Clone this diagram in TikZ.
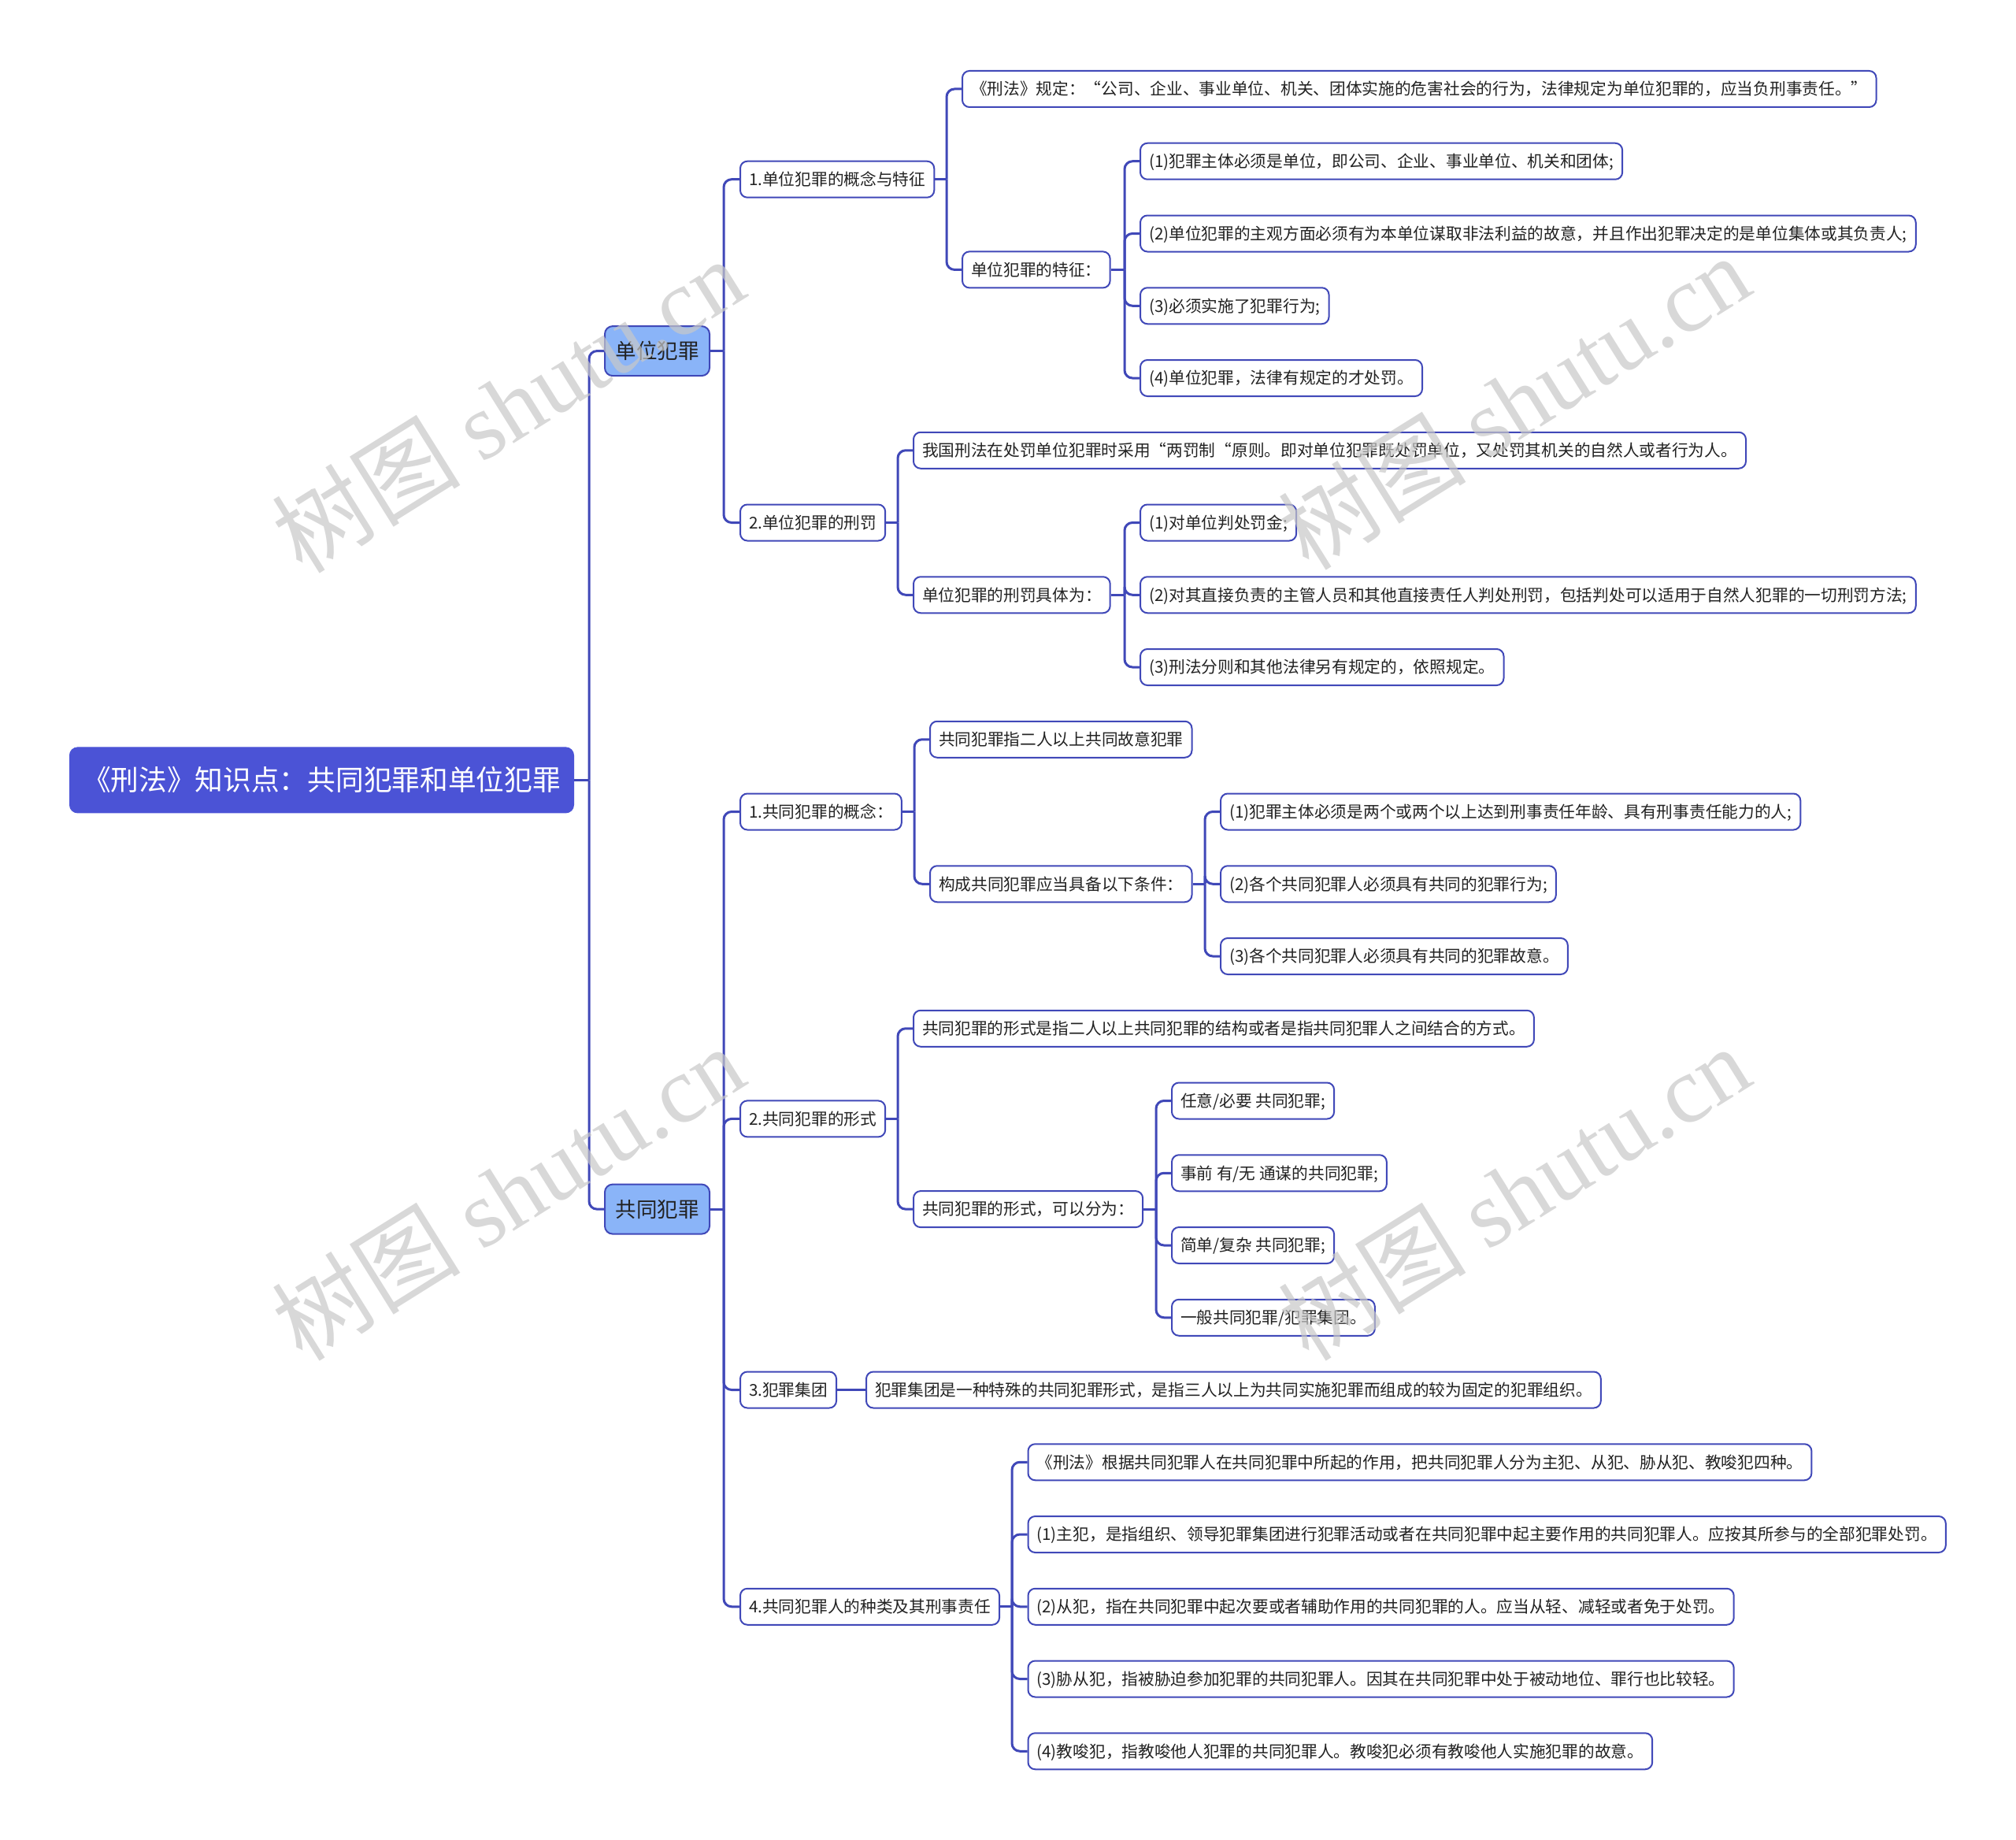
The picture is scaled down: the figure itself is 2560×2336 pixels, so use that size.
\documentclass[tikz,border=0pt]{standalone}
\usepackage{fontspec}
\setmainfont{Noto Sans CJK SC}
\newfontfamily\cjk{Noto Sans CJK SC}
\newfontfamily\wmserif{Liberation Serif}
\definecolor{lc}{HTML}{4048B8}
\definecolor{rootfill}{HTML}{4B53D6}
\definecolor{lonefill}{HTML}{8AB4F8}
\definecolor{tc}{HTML}{222222}
\definecolor{wmc}{HTML}{C8C8C8}
\tikzset{
  conn/.style={draw=lc, line width=3pt},
  bconn/.style={draw=lc, line width=3pt, rounded corners=10pt},
  leaf/.style={draw=lc, line width=2pt, fill=white, rounded corners=9pt, anchor=west,
    minimum height=46pt, inner xsep=11pt, inner ysep=0pt, text=tc,
    text height=18.2pt, text depth=2.5pt,
    font=\cjk\fontsize{20.7}{24}\selectfont},
  lone/.style={draw=lc, line width=2pt, fill=lonefill, rounded corners=10pt, anchor=west,
    minimum height=63pt, minimum width=133pt, inner xsep=0pt, text=tc,
    text height=23.3pt, text depth=3.2pt,
    font=\cjk\fontsize{26.5}{30}\selectfont},
  rootbox/.style={draw=rootfill, line width=1pt, fill=rootfill, rounded corners=10pt, anchor=west,
    minimum height=83pt, minimum width=640pt, inner xsep=0pt, text=white,
    text height=31.4pt, text depth=4.3pt,
    font=\cjk\fontsize{35.7}{40}\selectfont},
  wm/.style={text=wmc, opacity=0.7, rotate=32, font=\fontsize{120}{130}\selectfont}
}
\begin{document}
\begin{tikzpicture}[x=1pt,y=-1pt]
\useasboundingbox (0,0) rectangle (2560,2336);
% bus coordinates
\coordinate (b0) at (748,0);
\coordinate (bL) at (919,0);
\coordinate (bA1) at (1202,0);
\coordinate (bA12) at (1428,0);
\coordinate (bA2) at (1140,0);
\coordinate (bB1) at (1161,0);
\coordinate (bB12) at (1530,0);
\coordinate (bB2) at (1140,0);
\coordinate (bB22) at (1468,0);
\coordinate (bB4) at (1285,0);

% nodes
\node[rootbox] (root) at (88,990.4) {《刑法》知识点：共同犯罪和单位犯罪};
\node[lone] (la) at (767,445.6) {单位犯罪};
\node[lone] (lb) at (767,1535.1) {共同犯罪};

\node[leaf] (a1) at (939,227.7) {1.单位犯罪的概念与特征};
\node[leaf] (a2) at (939,663.5) {2.单位犯罪的刑罚};
\node[leaf] (a11) at (1221,113) {《刑法》规定：“公司、企业、事业单位、机关、团体实施的危害社会的行为，法律规定为单位犯罪的，应当负刑事责任。”};
\node[leaf] (a12) at (1221,342.4) {单位犯罪的特征：};
\node[leaf] (a121) at (1447,204.75) {(1)犯罪主体必须是单位，即公司、企业、事业单位、机关和团体;};
\node[leaf] (a122) at (1447,296.5) {(2)单位犯罪的主观方面必须有为本单位谋取非法利益的故意，并且作出犯罪决定的是单位集体或其负责人;};
\node[leaf] (a123) at (1447,388.25) {(3)必须实施了犯罪行为;};
\node[leaf] (a124) at (1447,480) {(4)单位犯罪，法律有规定的才处罚。};
\node[leaf] (a21) at (1159,571.75) {我国刑法在处罚单位犯罪时采用“两罚制“原则。即对单位犯罪既处罚单位，又处罚其机关的自然人或者行为人。};
\node[leaf] (a22) at (1159,755.25) {单位犯罪的刑罚具体为：};
\node[leaf] (a221) at (1447,663.5) {(1)对单位判处罚金;};
\node[leaf] (a222) at (1447,755.25) {(2)对其直接负责的主管人员和其他直接责任人判处刑罚，包括判处可以适用于自然人犯罪的一切刑罚方法;};
\node[leaf] (a223) at (1447,847) {(3)刑法分则和其他法律另有规定的，依照规定。};

\node[leaf] (b1) at (939,1030.5) {1.共同犯罪的概念：};
\node[leaf] (b2) at (939,1420.4) {2.共同犯罪的形式};
\node[leaf] (b3) at (939,1764.5) {3.犯罪集团};
\node[leaf] (b4) at (939,2039.75) {4.共同犯罪人的种类及其刑事责任};
\node[leaf] (b11) at (1180,938.75) {共同犯罪指二人以上共同故意犯罪};
\node[leaf] (b12) at (1180,1122.25) {构成共同犯罪应当具备以下条件：};
\node[leaf] (b121) at (1549,1030.5) {(1)犯罪主体必须是两个或两个以上达到刑事责任年龄、具有刑事责任能力的人;};
\node[leaf] (b122) at (1549,1122.25) {(2)各个共同犯罪人必须具有共同的犯罪行为;};
\node[leaf] (b123) at (1549,1214) {(3)各个共同犯罪人必须具有共同的犯罪故意。};
\node[leaf] (b21) at (1159,1305.75) {共同犯罪的形式是指二人以上共同犯罪的结构或者是指共同犯罪人之间结合的方式。};
\node[leaf] (b22) at (1159,1535.1) {共同犯罪的形式，可以分为：};
\node[leaf] (b221) at (1487,1397.5) {任意/必要 共同犯罪;};
\node[leaf] (b222) at (1487,1489.25) {事前 有/无 通谋的共同犯罪;};
\node[leaf] (b223) at (1487,1581) {简单/复杂 共同犯罪;};
\node[leaf] (b224) at (1487,1672.75) {一般共同犯罪/犯罪集团。};
\node[leaf] (b31) at (1099,1764.5) {犯罪集团是一种特殊的共同犯罪形式，是指三人以上为共同实施犯罪而组成的较为固定的犯罪组织。};
\node[leaf] (b41) at (1304.5,1856.25) {《刑法》根据共同犯罪人在共同犯罪中所起的作用，把共同犯罪人分为主犯、从犯、胁从犯、教唆犯四种。};
\node[leaf] (b42) at (1304.5,1948) {(1)主犯，是指组织、领导犯罪集团进行犯罪活动或者在共同犯罪中起主要作用的共同犯罪人。应按其所参与的全部犯罪处罚。};
\node[leaf] (b43) at (1304.5,2039.75) {(2)从犯，指在共同犯罪中起次要或者辅助作用的共同犯罪的人。应当从轻、减轻或者免于处罚。};
\node[leaf] (b44) at (1304.5,2131.5) {(3)胁从犯，指被胁迫参加犯罪的共同犯罪人。因其在共同犯罪中处于被动地位、罪行也比较轻。};
\node[leaf] (b45) at (1304.5,2223.25) {(4)教唆犯，指教唆他人犯罪的共同犯罪人。教唆犯必须有教唆他人实施犯罪的故意。};

% connectors
\draw[conn] (root.east) -- (root.east -| b0);
\foreach \c in {la,lb} \draw[bconn] (root.east -| b0) |- (\c.west);

\draw[conn] (la.east) -- (la.east -| bL);
\foreach \c in {a1,a2} \draw[bconn] (la.east -| bL) |- (\c.west);
\draw[conn] (a1.east) -- (a1.east -| bA1);
\foreach \c in {a11,a12} \draw[bconn] (a1.east -| bA1) |- (\c.west);
\draw[conn] (a12.east) -- (a12.east -| bA12);
\foreach \c in {a121,a122,a123,a124} \draw[bconn] (a12.east -| bA12) |- (\c.west);
\draw[conn] (a2.east) -- (a2.east -| bA2);
\foreach \c in {a21,a22} \draw[bconn] (a2.east -| bA2) |- (\c.west);
\draw[conn] (a22.east) -- (a22.east -| bA12);
\foreach \c in {a221,a222,a223} \draw[bconn] (a22.east -| bA12) |- (\c.west);

\draw[conn] (lb.east) -- (lb.east -| bL);
\foreach \c in {b1,b2,b3,b4} \draw[bconn] (lb.east -| bL) |- (\c.west);
\draw[conn] (b1.east) -- (b1.east -| bB1);
\foreach \c in {b11,b12} \draw[bconn] (b1.east -| bB1) |- (\c.west);
\draw[conn] (b12.east) -- (b12.east -| bB12);
\foreach \c in {b121,b122,b123} \draw[bconn] (b12.east -| bB12) |- (\c.west);
\draw[conn] (b2.east) -- (b2.east -| bB2);
\foreach \c in {b21,b22} \draw[bconn] (b2.east -| bB2) |- (\c.west);
\draw[conn] (b22.east) -- (b22.east -| bB22);
\foreach \c in {b221,b222,b223,b224} \draw[bconn] (b22.east -| bB22) |- (\c.west);
\draw[conn] (b3.east) -- (b31.west);
\draw[conn] (b4.east) -- (b4.east -| bB4);
\foreach \c in {b41,b42,b43,b44,b45} \draw[bconn] (b4.east -| bB4) |- (\c.west);

% watermarks
\node[wm] (wm1) at (645,514) {{\cjk 树图} {\wmserif shutu.cn}};
\node[wm] (wm2) at (1922,510) {{\cjk 树图} {\wmserif shutu.cn}};
\node[wm] (wm3) at (645,1514) {{\cjk 树图} {\wmserif shutu.cn}};
\node[wm] (wm4) at (1922,1514) {{\cjk 树图} {\wmserif shutu.cn}};
\end{tikzpicture}
\end{document}
